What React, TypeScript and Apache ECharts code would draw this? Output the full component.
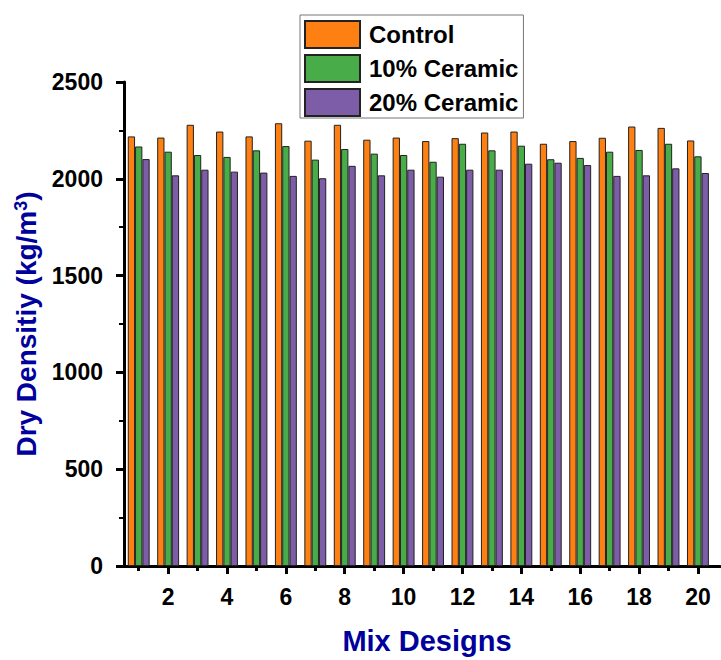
import React, { useEffect, useRef } from "react";
import * as echarts from "echarts";

const mixes = [1, 2, 3, 4, 5, 6, 7, 8, 9, 10, 11, 12, 13, 14, 15, 16, 17, 18, 19, 20];
const control = [2219, 2213, 2279, 2244, 2219, 2287, 2197, 2279, 2202, 2213, 2195, 2210, 2239, 2244, 2181, 2195, 2212, 2270, 2263, 2198];
const ceramic10 = [2167, 2140, 2123, 2113, 2147, 2169, 2099, 2154, 2130, 2123, 2088, 2181, 2147, 2171, 2101, 2108, 2140, 2149, 2181, 2116];
const ceramic20 = [2102, 2018, 2047, 2037, 2032, 2015, 2003, 2067, 2018, 2047, 2011, 2047, 2047, 2078, 2083, 2071, 2015, 2018, 2054, 2030];
const seriesNames = ["Control", "10% Ceramic", "20% Ceramic"];
const xMajorTicks = [2, 4, 6, 8, 10, 12, 14, 16, 18, 20];
const xMinorTicks = [1, 3, 5, 7, 9, 11, 13, 15, 17, 19];

const FONT = "'Liberation Sans', Arial, Helvetica, sans-serif";
const colors = ["#FF8012", "#48AD48", "#7D5CA8"];

export default function App() {
  const ref = useRef<HTMLDivElement>(null);
  useEffect(() => {
    if (!ref.current) return;
    const chart = echarts.init(ref.current, null, { renderer: "svg" });
    const values = [control, ceramic10, ceramic20];
    chart.setOption({
      animation: false,
      backgroundColor: "#fff",
      textStyle: { fontFamily: FONT },
      grid: { left: 124, top: 82, height: 486, right: 1 },
      legend: {
        orient: "vertical",
        left: 300,
        top: 15,
        itemWidth: 55,
        itemHeight: 27,
        itemGap: 5,
        padding: [5, 5, 1, 4],
        borderColor: "#777",
        borderWidth: 1,
        backgroundColor: "#fff",
        icon: "rect",
        textStyle: { fontFamily: FONT, fontSize: 24, fontWeight: "bold", color: "#000", padding: [0, 0, 0, 4] },
        data: seriesNames,
      },
      xAxis: [
        {
          type: "value",
          min: 0.5,
          max: 20.75,
          position: "bottom",
          name: "Mix Designs",
          nameLocation: "middle",
          nameGap: 60,
          nameTextStyle: { fontFamily: FONT, fontSize: 29, fontWeight: "bold", color: "#00009C", padding: [0, 0, 0, 10] },
          axisLine: { show: true, onZero: false, lineStyle: { color: "#000", width: 3 } },
          axisTick: { show: true, customValues: xMajorTicks, length: 8, lineStyle: { color: "#000", width: 3 } },
          axisLabel: { customValues: xMajorTicks, fontFamily: FONT, fontSize: 23, fontWeight: "bold", color: "#000", margin: 19, formatter: (v: number) => String(v) },
          splitLine: { show: false },
        },
        {
          type: "value",
          min: 0.5,
          max: 20.75,
          position: "bottom",
          axisLine: { show: false },
          axisTick: { show: true, customValues: xMinorTicks, length: 5, lineStyle: { color: "#000", width: 3 } },
          axisLabel: { show: false },
          splitLine: { show: false },
        },
      ],
      yAxis: {
        type: "value",
        min: 0,
        max: 2500,
        interval: 500,
        name: "Dry Densitiy (kg/m{sup|3})",
        nameLocation: "middle",
        nameGap: 78,
        nameTextStyle: {
          fontFamily: FONT,
          fontSize: 28,
          fontWeight: "bold",
          color: "#00009C",
          rich: {
            sup: { fontFamily: FONT, fontSize: 18, fontWeight: "bold", color: "#00009C", padding: [0, 0, 12, 0] },
          },
        },
        axisLine: { show: true, lineStyle: { color: "#000", width: 3 } },
        axisTick: { show: true, length: 8, lineStyle: { color: "#000", width: 3 } },
        minorTick: { show: true, splitNumber: 2, length: 5, lineStyle: { color: "#000", width: 2 } },
        axisLabel: { fontFamily: FONT, fontSize: 23, fontWeight: "bold", color: "#000", margin: 21, formatter: (v: number) => String(v) },
        splitLine: { show: false },
      },
      series: seriesNames.map((name, si) => ({
        name,
        type: "bar",
        xAxisIndex: 0,
        barWidth: 7.3,
        barGap: "0%",
        data: mixes.map((m, i) => [m, values[si][i]]),
        itemStyle: { color: colors[si], borderColor: "#222", borderWidth: 1 },
      })),
    });
    return () => chart.dispose();
  }, []);
  return <div ref={ref} style={{ position: "absolute", left: 0, top: 0, width: 721, height: 660 }} />;
}
